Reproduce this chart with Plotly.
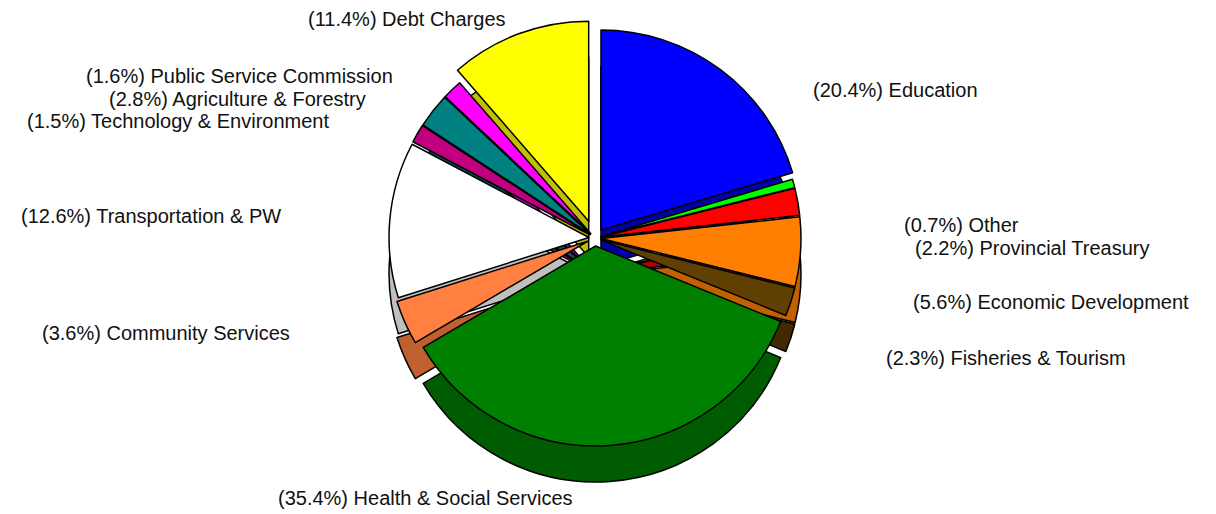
import plotly.graph_objects as go

categories = ["Education", "Other", "Provincial Treasury", "Economic Development",
              "Fisheries & Tourism", "Health & Social Services", "Community Services",
              "Transportation & PW", "Technology & Environment", "Agriculture & Forestry",
              "Public Service Commission", "Debt Charges"]
shares = [20.4, 0.7, 2.2, 5.6, 2.3, 35.4, 3.6, 12.6, 1.5, 2.8, 1.6, 11.4]

top_colors = ["#0000FF", "#00FF00", "#FF0000", "#FF8000", "#604000", "#008000",
              "#FF8040", "#FFFFFF", "#C00080", "#008080", "#FF00FF", "#FFFF00"]
side_colors = ["#0000A8", "#00B000", "#B00000", "#C06000", "#402A00", "#005C00",
               "#C06030", "#C0C0C0", "#900060", "#005858", "#C000C0", "#C0C000"]
pulls = [0.05, 0.03, 0.03, 0.03, 0.03, 0.04, 0.04, 0.03, 0.03, 0.03, 0.03, 0.09]

# label anchor positions (pixel centres in the 1216x514 page)
label_px = [(895, 90), (962, 225), (1032, 248), (1051, 302), (1006, 358), (425, 498),
            (166, 333), (151, 216), (178, 121), (237, 99), (239, 76), (407, 19)]

W, H = 1216, 514
cx, cy_top, depth, half = 595, 238, 36, 218

def dom(cy):
    return dict(x=[(cx - half) / W, (cx + half) / W],
                y=[1 - (cy + half) / H, 1 - (cy - half) / H])

fig = go.Figure()
fig.add_trace(go.Pie(labels=categories, values=shares, sort=False, direction="clockwise",
                     rotation=0, pull=pulls, domain=dom(cy_top + depth),
                     marker=dict(colors=side_colors, line=dict(color="black", width=1.5)),
                     textinfo="none", hoverinfo="skip", showlegend=False))
fig.add_trace(go.Pie(labels=categories, values=shares, sort=False, direction="clockwise",
                     rotation=0, pull=pulls, domain=dom(cy_top),
                     marker=dict(colors=top_colors, line=dict(color="black", width=1.5)),
                     textinfo="none", showlegend=False))

for name, v, (px, py) in zip(categories, shares, label_px):
    fig.add_annotation(x=px / W, y=1 - py / H, xref="paper", yref="paper",
                       text=f"({v}%) {name}", showarrow=False,
                       xanchor="center", yanchor="middle",
                       font=dict(family="Liberation Sans, Arial", size=20, color="#111111"))

fig.update_layout(width=W, height=H, margin=dict(l=0, r=0, t=0, b=0),
                  paper_bgcolor="white", plot_bgcolor="white", showlegend=False)
fig.write_html("out.html")
